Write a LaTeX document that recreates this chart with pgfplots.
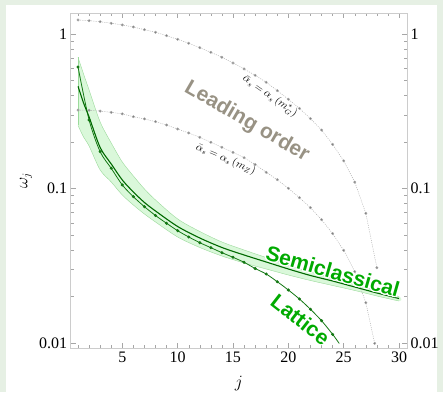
\documentclass[border=0pt]{standalone}
\usepackage{fontspec}
\setmainfont{Liberation Serif}
\newfontfamily\lsans{Liberation Sans}
\usepackage{pgfplots}
\pgfplotsset{compat=1.18}
\usepackage[copies]{contour}
\contourlength{1.2pt}
\contournumber{16}

\definecolor{bgcol}{RGB}{230,240,228}
\definecolor{dotgray}{RGB}{120,120,120}
\definecolor{linegray}{RGB}{170,170,170}
\definecolor{latgreen}{RGB}{20,120,20}
\definecolor{scgreen}{RGB}{0,105,0}
\definecolor{bandfill}{RGB}{218,248,218}
\definecolor{bandedge}{RGB}{155,218,155}
\definecolor{txtgreen}{RGB}{0,170,0}
\definecolor{txtgray}{RGB}{152,146,132}

\begin{document}
\begin{tikzpicture}[x=1pt,y=1pt]
\fill[bgcol] (0,0) rectangle (443,392);
\fill[white] (6,0) rectangle (437,387);
\begin{axis}[at={(70.7pt,44pt)}, anchor=south west, scale only axis,
  width=336.3pt, height=335pt,
  xmin=0.338, xmax=30.72, ymode=log, ymin=0.00928, ymax=1.367,
  xtick={5,10,15,20,25,30}, xticklabels={5,10,15,20,25,30},
  minor xtick={1,...,30},
  ytick={0.01,0.1,1}, yticklabels={0.01,0.1,1},
  minor ytick={0.02,0.03,0.04,0.05,0.06,0.07,0.08,0.09,0.2,0.3,0.4,0.5,0.6,0.7,0.8,0.9},
  tick align=inside,
  major tick length=5pt, minor tick length=3pt,
  every tick/.style={gray!70, line width=0.4pt},
  axis line style={gray!40, line width=0.5pt},
  ticklabel style={font=\fontsize{16}{16}\selectfont},
  xlabel={$j$}, ylabel={$\omega_j$},
  label style={font=\fontsize{16}{16}\selectfont},
  x label style={at={(axis description cs:0.5,-0.106)}, anchor=center},
  y label style={at={(axis description cs:-0.133,0.5)}, anchor=center},
  clip=true,
]
% uncertainty band of the semiclassical result (upper edge, then lower edge reversed)
\addplot[smooth, fill=bandfill, draw=none] coordinates {
(1,0.7065)(1.5,0.5509)(2,0.4340)(3,0.2694)(4,0.1970)(5,0.1484)(6,0.1205)(7,0.09926)(8,0.08425)(10,0.06348)(12,0.05269)(14,0.04505)(16,0.03999)(18,0.03576)(20,0.03197)(22,0.02881)(24,0.02635)(26,0.02391)(28,0.02177)(30,0.0200)
(30,0.01870)(28,0.02015)(26,0.02187)(24,0.02356)(22,0.02538)(20,0.02755)(18,0.03013)(16,0.03295)(14,0.03657)(12,0.04151)(10,0.04854)(8,0.06070)(7,0.06838)(6,0.07819)(5,0.09078)(4,0.1102)(3,0.1318)(2,0.1884)(1.5,0.2154)(1,0.2557)};
\addplot[smooth, bandedge, line width=0.4pt] coordinates {
(1,0.7065)(1.5,0.5509)(2,0.4340)(3,0.2694)(4,0.1970)(5,0.1484)(6,0.1205)(7,0.09926)(8,0.08425)(10,0.06348)(12,0.05269)(14,0.04505)(16,0.03999)(18,0.03576)(20,0.03197)(22,0.02881)(24,0.02635)(26,0.02391)(28,0.02177)(30,0.0200)};
\addplot[smooth, bandedge, line width=0.4pt] coordinates {
(1,0.2557)(1.5,0.2154)(2,0.1884)(3,0.1318)(4,0.1102)(5,0.09078)(6,0.07819)(7,0.06838)(8,0.06070)(10,0.04854)(12,0.04151)(14,0.03657)(16,0.03295)(18,0.03013)(20,0.02755)(22,0.02538)(24,0.02356)(26,0.02187)(28,0.02015)(30,0.01870)};
\addplot[bandedge, line width=0.4pt] coordinates {(1,0.7065)(1,0.2557)};
% leading order, alpha_s(m_G*)
\addplot[linegray, line width=0.45pt, dash pattern=on 1pt off 1.2pt, mark=*, mark size=1.2pt,
  mark options={solid, fill=dotgray, draw=none}] coordinates {
(1,1.232)(2,1.219)(3,1.201)(4,1.173)(5,1.144)(6,1.110)(7,1.066)(8,1.026)(9,0.975)(10,0.924)(11,0.871)(12,0.815)(13,0.761)(14,0.707)(15,0.649)(16,0.594)(17,0.540)(18,0.487)(19,0.430)(20,0.378)(21,0.330)(22,0.283)(23,0.239)(24,0.193)(25,0.151)(26,0.110)(27,0.0691)(28,0.0307)};
% leading order, alpha_s(m_Z)
\addplot[linegray, line width=0.45pt, dash pattern=on 1pt off 1.2pt, mark=*, mark size=1.2pt,
  mark options={solid, fill=dotgray, draw=none}] coordinates {
(1,0.322)(2,0.321)(3,0.317)(4,0.311)(5,0.304)(6,0.2915)(7,0.282)(8,0.2707)(9,0.2576)(10,0.2427)(11,0.2287)(12,0.2145)(13,0.1991)(14,0.1848)(15,0.1715)(16,0.1582)(17,0.1430)(18,0.1273)(19,0.1140)(20,0.1003)(21,0.0872)(22,0.0751)(23,0.0628)(24,0.0511)(25,0.0398)(26,0.0290)(27,0.01823)(27.8,0.00995)};
% lattice
\addplot[latgreen, line width=0.8pt, smooth, mark=*, mark size=1.1pt, mark indices={1,...,24},
  mark options={fill=latgreen, draw=none}] coordinates {
(1,0.6114)(2,0.2776)(3,0.1730)(4,0.1351)(5,0.1054)(6,0.08850)(7,0.07623)(8,0.06686)(9,0.05953)(10,0.05331)(11,0.04855)(12,0.04459)(13,0.04139)(14,0.03842)(15,0.03587)(16,0.03329)(17,0.03035)(18,0.02796)(19,0.02493)(20,0.02203)(21,0.01927)(22,0.01652)(23,0.01394)(24,0.01138)(24.6,0.00993)};
% semiclassical
\addplot[scgreen, line width=1.1pt, smooth] coordinates {
(1,0.4587)(1.5,0.3576)(2,0.2903)(3,0.1842)(4,0.1441)(5,0.1135)(6,0.09492)(7,0.08117)(8,0.07150)(10,0.05676)(12,0.04782)(14,0.04151)(16,0.03712)(18,0.03344)(20,0.03013)(22,0.02734)(24,0.02519)(26,0.02304)(28,0.02107)(30,0.01941)};
% labels
\node[rotate=-30, text=txtgray, font=\lsans\bfseries\fontsize{21}{21}\selectfont] at (axis cs:16.24,0.2706) {Leading order};
\node[rotate=-35, font=\fontsize{10.5}{10.5}\selectfont] at (axis cs:18.34,0.397) {$\bar{\alpha}_s=\alpha_s\left(m_G^{*}\right)$};
\node[rotate=-23, font=\fontsize{10.5}{10.5}\selectfont] at (axis cs:14.35,0.1547) {$\bar{\alpha}_s=\alpha_s\left(m_Z\right)$};
\node[rotate=-16, text=txtgreen, font=\lsans\bfseries\fontsize{21}{21}\selectfont] at (axis cs:24.0,0.02893) {\contour{white}{Semiclassical}};
\node[rotate=-38, text=txtgreen, font=\lsans\bfseries\fontsize{21}{21}\selectfont] at (axis cs:21.06,0.01409) {\contour{white}{Lattice}};
\end{axis}
\begin{axis}[at={(70.7pt,44pt)}, anchor=south west, scale only axis,
  width=336.3pt, height=335pt,
  xmin=0.338, xmax=30.72, ymode=log, ymin=0.00928, ymax=1.367,
  hide x axis, axis line style={draw=none},
  ytick={0.01,0.1,1}, yticklabels={0.01,0.1,1}, minor ytick={},
  yticklabel pos=right, ytick style={draw=none},
  ticklabel style={font=\fontsize{16}{16}\selectfont},
]
\addplot[draw=none] coordinates {(1,0.1)};
\end{axis}
\pgfresetboundingbox
\path (0,0) rectangle (443,392);
\end{tikzpicture}
\end{document}
